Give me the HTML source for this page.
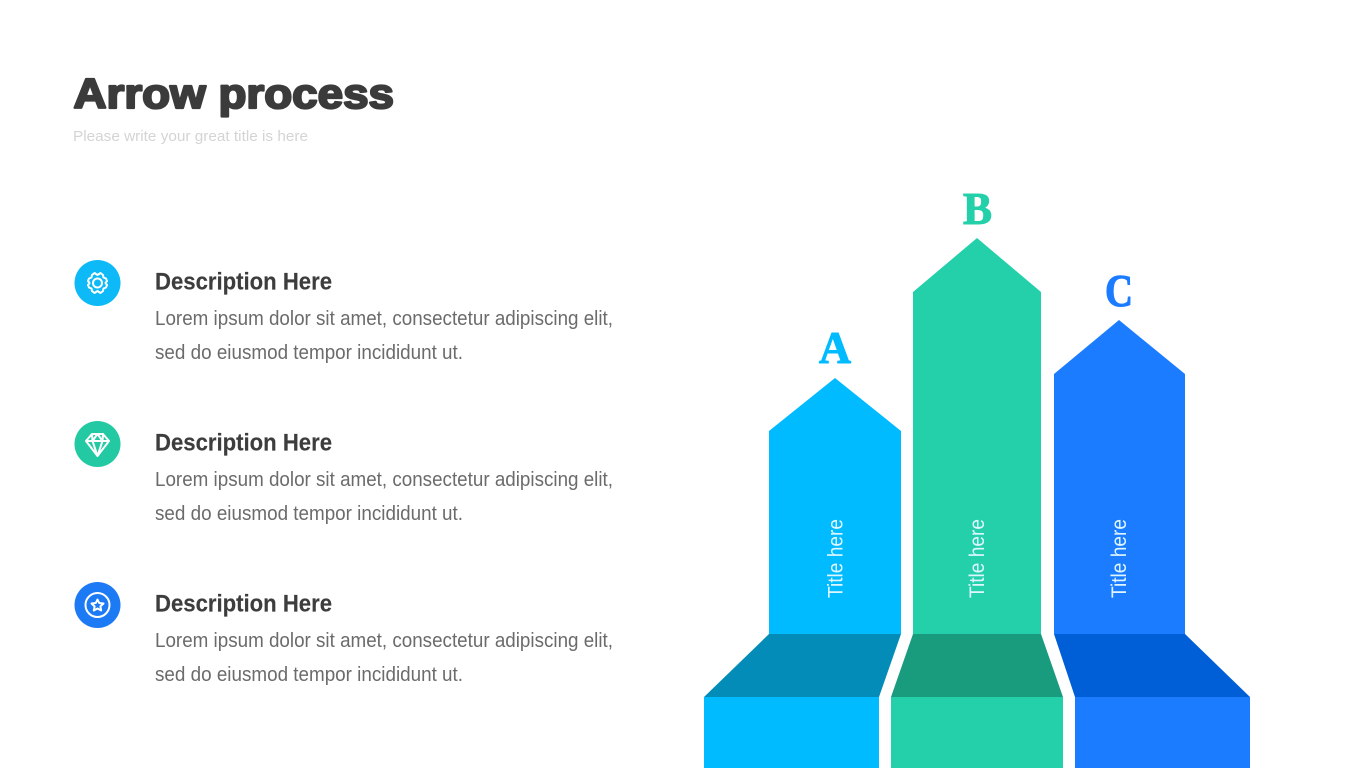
<!DOCTYPE html>
<html lang="en">
<head>
<meta charset="utf-8">
<title>Arrow process</title>
<style>
html,body{margin:0;padding:0;background:#fff;width:1365px;height:768px;overflow:hidden}
svg{display:block}
text{font-family:"Liberation Sans",sans-serif}
.h{font-size:24px;font-weight:700;fill:#3d3d3d;stroke:#3d3d3d;stroke-width:.15}
.b{font-size:20.5px;fill:#6b6b6b}
.l{font-family:"Liberation Serif",serif;font-size:46px;font-weight:700;stroke-width:1.1}
.t{font-size:21px;fill:#dff6ff}
.i{fill:none;stroke:#fff;stroke-width:2;stroke-linejoin:round;stroke-linecap:round}
</style>
</head>
<body>
<svg width="1365" height="768" viewBox="0 0 1365 768" xmlns="http://www.w3.org/2000/svg">
<text x="73.500" y="108" font-size="42" font-weight="700" fill="#3b3b3b" stroke="#3b3b3b" stroke-width="2.200" stroke-linejoin="round" textLength="320.500" lengthAdjust="spacingAndGlyphs">Arrow process</text>
<text x="73" y="141" font-size="14.500" fill="#d4d4d4" textLength="235" lengthAdjust="spacingAndGlyphs">Please write your great title is here</text>

<circle cx="97.500" cy="283" r="23" fill="#0db9f7"/>
<circle cx="97.500" cy="283" r="4.500" class="i"/>
<path class="i" d="M94.500 273 L97.500 275 L100.500 273 L103 275 L103.500 277.500 L106 278.500 L107 281 L105.500 283 L107 285 L106 287.500 L103.500 288.500 L103 291 L100.500 293 L97.500 291 L94.500 293 L92 291 L91.500 288.500 L89 287.500 L88 285 L89.500 283 L88 281 L89 278.500 L91.500 277.500 L92 275 Z"/>
<text class="h" x="155" y="289.500" textLength="177" lengthAdjust="spacingAndGlyphs">Description Here</text>
<text class="b" x="155" y="325" textLength="458" lengthAdjust="spacingAndGlyphs">Lorem ipsum dolor sit amet, consectetur adipiscing elit,</text>
<text class="b" x="155" y="359" textLength="308" lengthAdjust="spacingAndGlyphs">sed do eiusmod tempor incididunt ut.</text>

<circle cx="97.500" cy="444" r="23" fill="#23c9a3"/>
<path class="i" d="M92 434 H103 L109 441 L97.500 456 L86 441 Z M86 441 H109 M92.500 441 L97.500 456 L102.500 441 M92 434 L92.500 441 L97.500 434 L102.500 441 L103 434"/>
<text class="h" x="155" y="450.500" textLength="177" lengthAdjust="spacingAndGlyphs">Description Here</text>
<text class="b" x="155" y="486" textLength="458" lengthAdjust="spacingAndGlyphs">Lorem ipsum dolor sit amet, consectetur adipiscing elit,</text>
<text class="b" x="155" y="520" textLength="308" lengthAdjust="spacingAndGlyphs">sed do eiusmod tempor incididunt ut.</text>

<circle cx="97.500" cy="605" r="23" fill="#1c7af5"/>
<circle cx="97.500" cy="605" r="12" class="i"/>
<path class="i" d="M97.500 599.500 L99.200 603 L103.500 603.500 L100.400 606.400 L101.200 610.500 L97.500 608.500 L93.800 610.500 L94.600 606.400 L91.500 603.500 L95.800 603 Z"/>
<text class="h" x="155" y="611.500" textLength="177" lengthAdjust="spacingAndGlyphs">Description Here</text>
<text class="b" x="155" y="647" textLength="458" lengthAdjust="spacingAndGlyphs">Lorem ipsum dolor sit amet, consectetur adipiscing elit,</text>
<text class="b" x="155" y="681" textLength="308" lengthAdjust="spacingAndGlyphs">sed do eiusmod tempor incididunt ut.</text>

<polygon points="769,431 835,378 901,431 901,634 769,634" fill="#00bbff"/>
<polygon points="913,292 977,238 1041,292 1041,634 913,634" fill="#23d0aa"/>
<polygon points="1054,374 1119,320 1185,374 1185,634 1054,634" fill="#1c7cff"/>

<polygon points="769,634 901,634 879,697 704,697" fill="#038cb8"/>
<polygon points="913,634 1041,634 1063,697 891,697" fill="#199b7e"/>
<polygon points="1054,634 1185,634 1250,697 1075,697" fill="#005ed6"/>

<rect x="704" y="697" width="175" height="71" fill="#00bbff"/>
<rect x="891" y="697" width="172" height="71" fill="#23d0aa"/>
<rect x="1075" y="697" width="175" height="71" fill="#1c7cff"/>

<text class="l" x="819" y="363" fill="#00bbff" stroke="#00bbff" textLength="32" lengthAdjust="spacingAndGlyphs">A</text>
<text class="l" x="963" y="224" fill="#23d0aa" stroke="#23d0aa" textLength="29" lengthAdjust="spacingAndGlyphs">B</text>
<text class="l" x="1105" y="306" fill="#1c7cff" stroke="#1c7cff" textLength="28" lengthAdjust="spacingAndGlyphs">C</text>

<text class="t" transform="translate(842.500 598) rotate(-90)" textLength="79" lengthAdjust="spacingAndGlyphs">Title here</text>
<text class="t" transform="translate(984 598) rotate(-90)" textLength="79" lengthAdjust="spacingAndGlyphs">Title here</text>
<text class="t" transform="translate(1126 598) rotate(-90)" textLength="79" lengthAdjust="spacingAndGlyphs">Title here</text>
</svg>
</body>
</html>
